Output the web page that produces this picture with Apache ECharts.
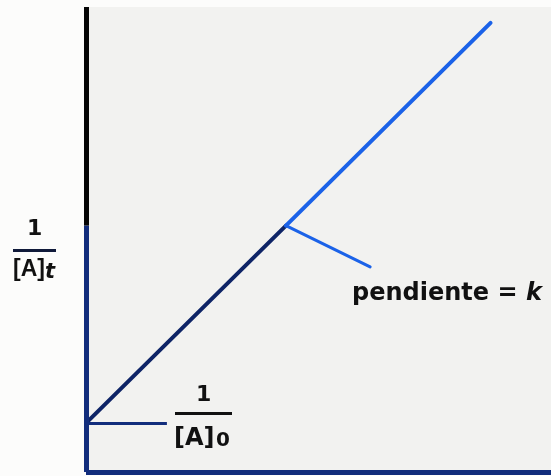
<!DOCTYPE html>
<html>
<head>
<meta charset="utf-8">
<script src="https://cdn.jsdelivr.net/npm/echarts@6/dist/echarts.min.js"></script>
<style>
  html, body { margin: 0; padding: 0; background: #fcfcfb; }
  #chart { width: 551px; height: 476px; }
</style>
</head>
<body>
<div id="chart"></div>
<script>
// Second-order kinetics: 1/[A]t versus t is a straight line, slope k, intercept 1/[A]0
const timeLower = [0, 4.3];          // first stretch of the line (dark)
const invALower = [1.05, 5.3];
const timeUpper = [4.3, 8.7];        // continuation of the line (bright)
const invAUpper = [5.3, 9.66];
const intercept = 1.05;              // 1/[A]0
const interceptMarkEnd = 1.74;       // end of the short marker at the intercept
const slopeCallout = [[4.3, 5.3], [6.11, 4.41]]; // callout pointing to the line
const axisMax = 10;

const navy = '#122d7c';
const darkLine = '#0e2466';
const bright = '#1b62e8';

const chart = echarts.init(document.getElementById('chart'));

function pairs(xs, ys) { return xs.map((x, i) => [x, ys[i]]); }

chart.setOption({
  animation: false,
  backgroundColor: '#fcfcfb',
  grid: {
    left: 86, right: 0, top: 7, bottom: 4,
    show: true, backgroundColor: '#f2f2f0', borderWidth: 0
  },
  xAxis: {
    type: 'value', min: 0, max: axisMax,
    axisLine: { show: false }, axisTick: { show: false },
    axisLabel: { show: false }, splitLine: { show: false }
  },
  yAxis: {
    type: 'value', min: 0, max: axisMax,
    axisLine: { show: false }, axisTick: { show: false },
    axisLabel: { show: false }, splitLine: { show: false }
  },
  series: [
    {
      // axes and the intercept marker
      type: 'line', data: [], silent: true,
      markLine: {
        silent: true, symbol: 'none', animation: false,
        label: { show: false },
        data: [
          [{ coord: [0, 0], lineStyle: { color: navy, width: 5, type: 'solid' } }, { coord: [0, invALower[1]] }],
          [{ coord: [0, invALower[1]], lineStyle: { color: '#050505', width: 5, type: 'solid' } }, { coord: [0, axisMax] }],
          [{ coord: [0, 0], lineStyle: { color: navy, width: 5, type: 'solid' } }, { coord: [axisMax, 0] }],
          [{ coord: [0, intercept], lineStyle: { color: navy, width: 3, type: 'solid' } }, { coord: [interceptMarkEnd, intercept] }],
          [{ coord: slopeCallout[0], lineStyle: { color: bright, width: 3, type: 'solid', cap: 'round' } }, { coord: slopeCallout[1] }]
        ]
      }
    },
    {
      type: 'line', data: pairs(timeLower, invALower), symbol: 'none',
      lineStyle: { color: darkLine, width: 4, cap: 'round' }, z: 3
    },
    {
      type: 'line', data: pairs(timeUpper, invAUpper), symbol: 'none',
      lineStyle: { color: bright, width: 4, cap: 'round' }, z: 3
    }
  ],
  graphic: [
    // 1/[A]t beside the vertical axis
    { type: 'text', left: 27, top: 218, style: { text: '1', font: 'bold 22px "DejaVu Sans"', fill: '#111' } },
    { type: 'rect', shape: { x: 13, y: 249, width: 43, height: 3 }, style: { fill: '#101a3a' } },
    { type: 'text', left: 13, top: 258, style: { text: '[A]', font: 'bold 23px "Liberation Sans"', fill: '#111' } },
    { type: 'text', left: 45, top: 262, style: { text: 't', font: 'italic bold 21px "DejaVu Sans"', fill: '#111' } },
    // 1/[A]0 beside the intercept
    { type: 'text', left: 196, top: 384, style: { text: '1', font: 'bold 22px "DejaVu Sans"', fill: '#111' } },
    { type: 'rect', shape: { x: 175, y: 412, width: 57, height: 3 }, style: { fill: '#111' } },
    { type: 'text', left: 174, top: 427, style: { text: '[A]', font: 'bold 24px "DejaVu Sans"', fill: '#111' } },
    { type: 'text', left: 216, top: 431, style: { text: '0', font: 'bold 20px "DejaVu Sans"', fill: '#111' } },
    // slope label
    {
      type: 'text', left: 352, top: 282,
      style: {
        text: '{a|pendiente = }{b|k}',
        rich: {
          a: { font: 'bold 24px "DejaVu Sans"', fill: '#111' },
          b: { font: 'italic bold 24px "DejaVu Sans"', fill: '#111' }
        }
      }
    }
  ]
});
</script>
</body>
</html>
